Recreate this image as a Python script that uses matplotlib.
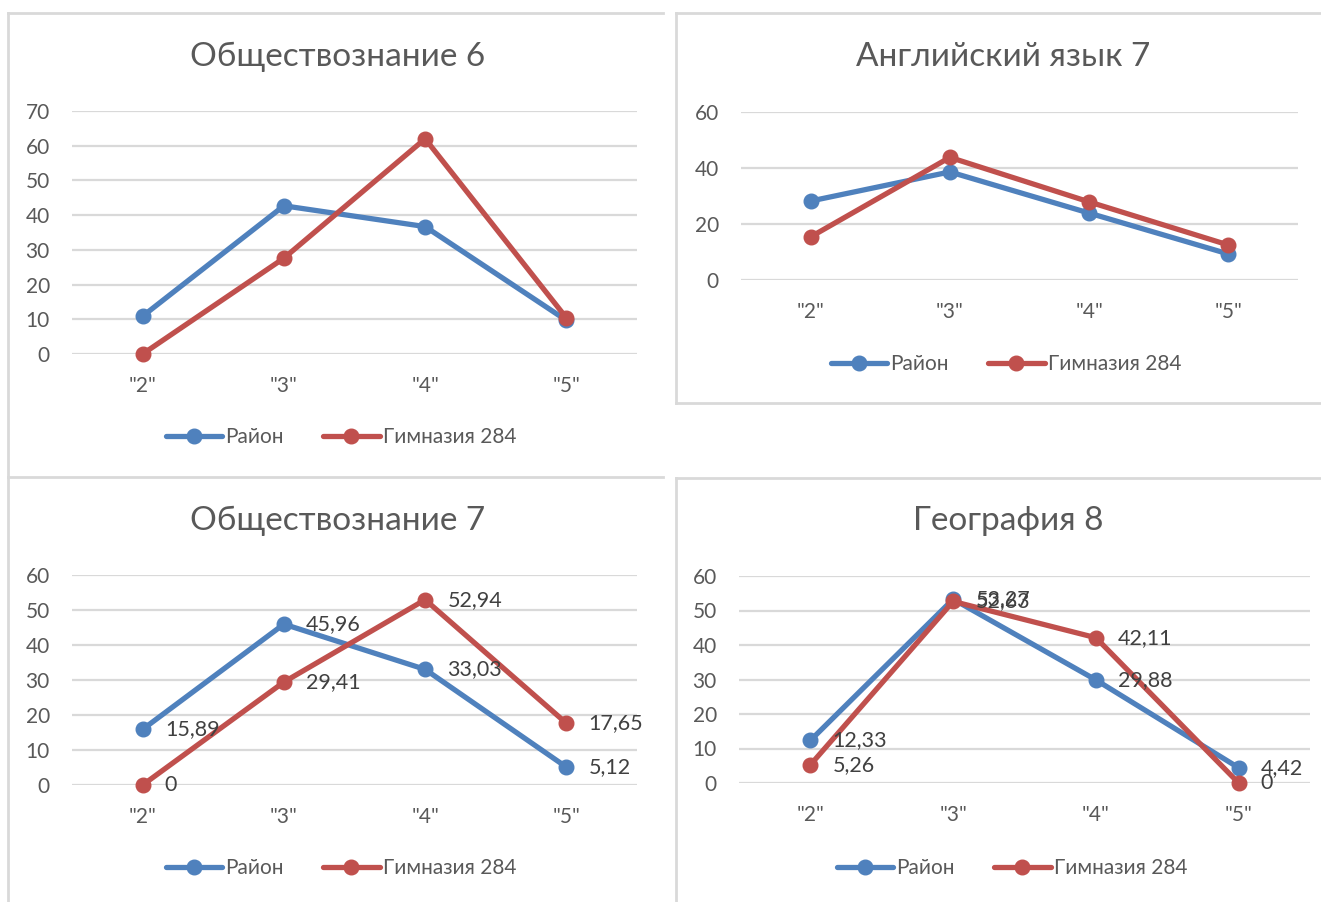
import matplotlib
matplotlib.use("Agg")
import matplotlib.pyplot as plt
from matplotlib.lines import Line2D

plt.rcParams['font.family'] = ['Lato', 'DejaVu Sans']

W, H = 1321, 902

categories = ['"2"', '"3"', '"4"', '"5"']
series_names = ['Район', 'Гимназия 284']

titles = ['Обществознание 6', 'Английский язык 7', 'Обществознание 7', 'География 8']

# значения (первые два графика без подписей)
obsh6_raion = [10.9, 42.7, 36.7, 9.7]
obsh6_gimn = [0, 27.6, 62.0, 10.4]
angl7_raion = [28.2, 38.6, 23.9, 9.3]
angl7_gimn = [15.4, 43.8, 27.9, 12.5]
obsh7_raion = [15.89, 45.96, 33.03, 5.12]
obsh7_gimn = [0, 29.41, 52.94, 17.65]
geo8_raion = [12.33, 53.27, 29.88, 4.42]
geo8_gimn = [5.26, 52.63, 42.11, 0]

ymax = [70, 60, 60, 60]
ystep = [10, 20, 10, 10]
show_labels = [False, False, True, True]

BLUE = '#4F81BD'
RED = '#C0504D'
GRID = '#D9D9D9'
TXT = '#595959'
FS = 15

fig = plt.figure(figsize=(W / 100, H / 100), dpi=100)


def fx(x):
    return x / W


def fy(y):
    return 1 - y / H


def add_ax(left, right, top, bottom):
    return fig.add_axes([fx(left), fy(bottom), (right - left) / W, (bottom - top) / H])


# рамки диаграмм (как в Excel, обрезаны краем картинки)
border = dict(color=GRID, lw=2, transform=fig.transFigure)
for xs, ys in [
    ([8, 663], [13, 13]), ([8, 8], [13, 902]), ([8, 663], [477, 477]),
    ([676, 1321], [13, 13]), ([676, 676], [13, 403]), ([676, 1321], [403, 403]),
    ([676, 1321], [478, 478]), ([676, 676], [478, 902]),
]:
    fig.add_artist(Line2D([fx(v) for v in xs], [fy(v) for v in ys], **border))

boxes = [(72, 637, 111, 354), (741, 1298, 112, 280), (72, 637, 575, 785), (739, 1310, 576, 783)]
title_pos = [(338, 57), (1003, 57), (338, 521), (1008, 521)]
legend_pos = [(341, 437), (1006, 364), (341, 868), (1012, 868)]
data = [(obsh6_raion, obsh6_gimn), (angl7_raion, angl7_gimn),
        (obsh7_raion, obsh7_gimn), (geo8_raion, geo8_gimn)]

for k in range(4):
    ax = add_ax(*boxes[k])
    xs = range(len(categories))
    raion, gimn = data[k]
    ax.plot(xs, raion, color=BLUE, lw=3.8, marker='o', ms=10.5, label=series_names[0],
            clip_on=False, solid_capstyle='round', zorder=3)
    ax.plot(xs, gimn, color=RED, lw=3.8, marker='o', ms=10.5, label=series_names[1],
            clip_on=False, solid_capstyle='round', zorder=4)

    ax.set_xlim(-0.5, 3.5)
    ax.set_ylim(0, ymax[k])
    ax.set_yticks(range(0, ymax[k] + 1, ystep[k]))
    ax.set_xticks(list(xs))
    ax.set_xticklabels(categories)
    ax.tick_params(length=0, labelsize=FS, labelcolor=TXT)
    ax.tick_params(axis='y', pad=16)
    ax.tick_params(axis='x', pad=16)
    for s in ax.spines.values():
        s.set_visible(False)
    ax.grid(axis='y', color=GRID, lw=1.6)
    ax.set_axisbelow(True)

    if show_labels[k]:
        for vals in (raion, gimn):
            for i, v in enumerate(vals):
                ax.annotate(f"{v:g}".replace('.', ','), xy=(i, v), xytext=(16, 0),
                            textcoords='offset points', ha='left', va='center',
                            fontsize=FS + 0.5, color='#404040', zorder=5)

    fig.text(fx(title_pos[k][0]), fy(title_pos[k][1]), titles[k], ha='center', va='center',
             fontsize=24, color=TXT)
    ax.legend(loc='center', bbox_to_anchor=(fx(legend_pos[k][0]), fy(legend_pos[k][1])),
              bbox_transform=fig.transFigure, ncol=2, frameon=False, fontsize=FS,
              labelcolor=TXT, handlelength=2.7, handletextpad=0.15, columnspacing=1.9)

fig.savefig('out.png', dpi=100, facecolor='white')
